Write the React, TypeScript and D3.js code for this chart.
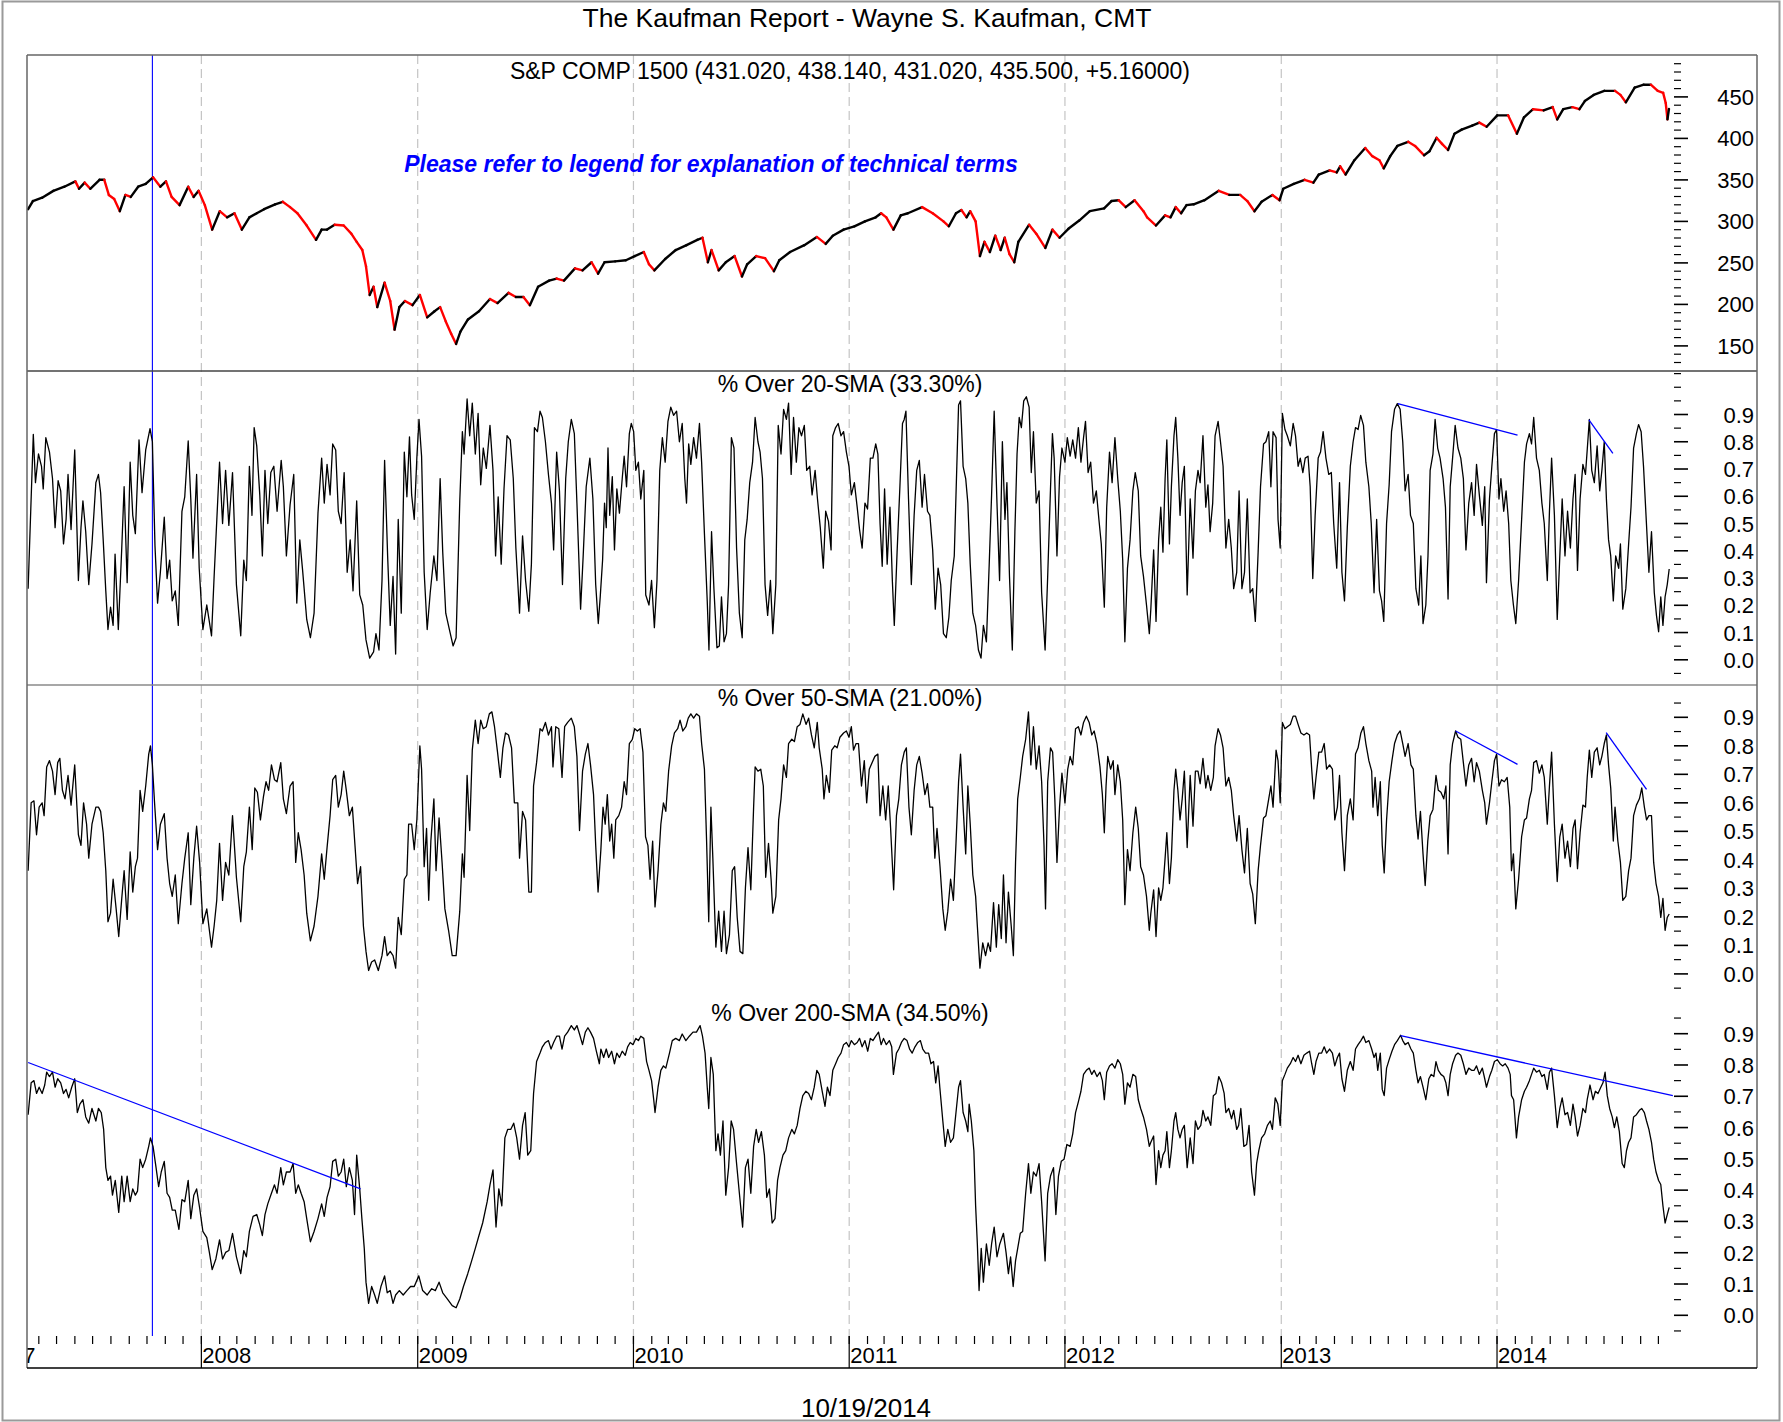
import React from "react";
import * as d3 from "d3";

// ---------------- text ----------------
const chartTitle = "The Kaufman Report - Wayne S. Kaufman, CMT";
const footerDate = "10/19/2014";
const noteText = "Please refer to legend for explanation of technical terms";
const spxTitle = "S&P COMP 1500 (431.020, 438.140, 431.020, 435.500, +5.16000)";
const pct20Title = "% Over 20-SMA (33.30%)";
const pct50Title = "% Over 50-SMA (21.00%)";
const pct200Title = "% Over 200-SMA (34.50%)";

// ---------------- axes ----------------
const xDomainYears = [2007.1918, 2014.8203];
const spxMajor = [150, 200, 250, 300, 350, 400, 450];
const spxMinorRange = [130, 490, 10];
const pctMajor = [0, 0.1, 0.2, 0.3, 0.4, 0.5, 0.6, 0.7, 0.8, 0.9];
const pct20MinorRange = [-0.05, 1.05, 0.05];
const pct50MinorRange = [-0.05, 0.95, 0.05];
const pct200MinorRange = [-0.05, 0.95, 0.05];
const markerYear = 2007.773; // Oct 2007 top

// ---------------- series (decimal year, value) ----------------
const spx: [number, number][] = [
[2007.197,314.7],[2007.219,324.5],[2007.262,328.5],[2007.314,336.8],[2007.365,341.8],[2007.416,348.2],[2007.433,339.3],[2007.459,346.7],[2007.485,339.3],[2007.528,350.1],[2007.550,350.1],[2007.571,331.9],[2007.596,327],[2007.622,312.3],[2007.648,331.9],[2007.673,329.5],[2007.707,341.8],[2007.742,345.2],[2007.776,353.1],[2007.810,341.8],[2007.836,348.2],[2007.862,329.5],[2007.899,319.6],[2007.939,341.8],[2007.964,329.5],[2007.987,336.8],[2008.016,319.6],[2008.050,290.1],[2008.085,312.3],[2008.119,304.9],[2008.153,309.8],[2008.187,290.1],[2008.222,304.9],[2008.256,309.8],[2008.290,314.7],[2008.341,320.6],[2008.376,323.6],[2008.410,317.2],[2008.444,309.8],[2008.487,295],[2008.530,277.8],[2008.556,290.1],[2008.581,290.1],[2008.616,296],[2008.658,295],[2008.693,285.2],[2008.718,275.4],[2008.744,265.5],[2008.761,245.9],[2008.778,211.4],[2008.796,221.3],[2008.813,196.7],[2008.847,226.2],[2008.873,204.1],[2008.893,169.6],[2008.915,196.7],[2008.941,204.1],[2008.976,199.1],[2009.010,211.4],[2009.044,184.4],[2009.078,191.8],[2009.104,196.7],[2009.130,179.5],[2009.155,164.7],[2009.178,152.4],[2009.198,167.2],[2009.233,181.9],[2009.284,191.8],[2009.335,206.5],[2009.370,201.6],[2009.421,213.9],[2009.455,209],[2009.490,209],[2009.520,199.1],[2009.558,221.3],[2009.609,228.7],[2009.644,231.1],[2009.678,228.7],[2009.729,243.4],[2009.764,241],[2009.806,250.8],
[2009.836,237],[2009.866,250.8],[2009.915,251.8],[2009.965,253.2],[2010.006,258.2],[2010.048,263.1],[2010.072,248.3],[2010.097,241],[2010.147,254.7],[2010.196,265.5],[2010.246,271.4],[2010.296,277.8],[2010.320,280.3],[2010.345,250.8],[2010.362,265.5],[2010.395,241],[2010.428,250.8],[2010.469,258.2],[2010.503,233.6],[2010.527,248.3],[2010.569,258.2],[2010.610,255.7],[2010.651,240],[2010.676,253.2],[2010.726,263.1],[2010.792,271.4],[2010.850,281.3],[2010.891,272.9],[2010.924,282.8],[2010.974,290.1],[2011.024,294.1],[2011.073,300],[2011.123,304.9],[2011.148,309.8],[2011.172,304.9],[2011.205,290.1],[2011.239,307.3],[2011.272,309.8],[2011.338,317.2],[2011.387,309.8],[2011.437,300],[2011.462,294.1],[2011.495,309.8],[2011.520,313.7],[2011.544,304.9],[2011.561,312.3],[2011.586,300],[2011.606,258.2],[2011.627,275.4],[2011.652,263.1],[2011.677,282.8],[2011.702,265.5],[2011.721,280.3],[2011.743,260.6],[2011.765,250.8],[2011.784,275.4],[2011.834,296],[2011.867,285.2],[2011.909,268],[2011.942,290.1],[2011.975,280.3],[2012.016,291.1],[2012.066,301],[2012.115,312.3],[2012.181,315.7],[2012.215,324.5],[2012.248,325.5],[2012.281,317.2],[2012.322,325.5],[2012.363,312.3],
[2012.380,304.9],[2012.421,295],[2012.463,307.3],[2012.488,304.9],[2012.512,317.2],[2012.537,309.8],[2012.562,319.6],[2012.595,320.6],[2012.645,325.5],[2012.711,336.8],[2012.760,331.9],[2012.810,331.9],[2012.843,324.5],[2012.876,312.3],[2012.909,323.6],[2012.959,331.9],[2012.992,325.5],[2013.009,339.3],[2013.058,345.2],[2013.108,350.1],[2013.149,346.7],[2013.174,356.5],[2013.224,361.4],[2013.257,359],[2013.273,366.3],[2013.298,356.5],[2013.339,373.7],[2013.389,388.5],[2013.422,378.6],[2013.455,373.7],[2013.475,363.9],[2013.505,378.6],[2013.538,390.9],[2013.588,395.9],[2013.620,390.9],[2013.662,379.6],[2013.687,384.5],[2013.720,400.8],[2013.745,393.4],[2013.773,386],[2013.803,405.7],[2013.836,410.6],[2013.885,415.5],[2013.918,419],[2013.952,414],[2014.001,427.8],[2014.051,427.8],[2014.092,405.7],[2014.125,425.4],[2014.167,435.2],[2014.216,433.7],[2014.258,437.7],[2014.279,422.9],[2014.307,435.2],[2014.349,437.7],[2014.382,435.2],[2014.407,445],[2014.448,452.4],[2014.497,457.3],[2014.547,457.3],[2014.572,452.4],[2014.597,443.5],[2014.638,461.3],[2014.680,464.7],[2014.713,464.7],[2014.745,457.3],[2014.770,454.9],[2014.782,442.6],[2014.790,422.9],[2014.797,435.5]
];

const pct20: [number, number][] = [
[2007.197,0.261],[2007.221,0.827],[2007.231,0.650],[2007.245,0.755],[2007.259,0.710],[2007.267,0.627],[2007.279,0.815],[2007.296,0.762],[2007.310,0.665],[2007.322,0.485],[2007.336,0.657],[2007.348,0.620],[2007.361,0.425],[2007.373,0.515],[2007.382,0.680],[2007.396,0.478],[2007.413,0.770],[2007.430,0.291],[2007.442,0.485],[2007.451,0.583],[2007.464,0.470],[2007.478,0.276],[2007.493,0.425],[2007.511,0.650],[2007.523,0.680],[2007.533,0.613],[2007.545,0.440],[2007.557,0.253],[2007.567,0.111],[2007.579,0.193],[2007.591,0.126],[2007.600,0.388],[2007.615,0.111],[2007.631,0.410],[2007.642,0.635],[2007.656,0.283],[2007.670,0.725],[2007.682,0.530],[2007.694,0.463],[2007.711,0.807],[2007.725,0.613],[2007.742,0.770],[2007.762,0.848],[2007.773,0.800],[2007.785,0.418],[2007.797,0.208],[2007.810,0.321],[2007.828,0.523],[2007.841,0.298],[2007.853,0.366],[2007.865,0.216],[2007.879,0.253],[2007.893,0.126],[2007.910,0.545],[2007.923,0.598],[2007.939,0.803],[2007.951,0.590],[2007.961,0.373],[2007.978,0.680],[2007.990,0.336],[2008.007,0.111],[2008.025,0.201],[2008.047,0.088],[2008.059,0.306],[2008.084,0.725],[2008.098,0.500],[2008.112,0.695],[2008.127,0.493],[2008.144,0.687],[2008.162,0.276],[2008.182,0.088],[2008.196,0.366],[2008.208,0.291],[2008.222,0.710],[2008.234,0.530],[2008.244,0.852],[2008.256,0.785],[2008.270,0.605],[2008.282,0.381],[2008.294,0.695],[2008.307,0.500],[2008.321,0.687],[2008.335,0.710],[2008.350,0.545],[2008.369,0.732],[2008.379,0.635],[2008.393,0.381],[2008.410,0.568],[2008.427,0.680],[2008.441,0.208],[2008.455,0.440],[2008.468,0.328],[2008.487,0.148],[2008.504,0.081],[2008.521,0.171],[2008.539,0.538],[2008.556,0.740],[2008.568,0.575],[2008.581,0.717],[2008.595,0.605],[2008.607,0.792],[2008.621,0.770],[2008.633,0.545],[2008.646,0.500],[2008.660,0.687],[2008.674,0.321],[2008.688,0.440],[2008.701,0.253],[2008.718,0.583],[2008.732,0.238],[2008.746,0.201],[2008.761,0.073],[2008.778,0.006],[2008.796,0.029],[2008.807,0.096],[2008.821,0.036],[2008.835,0.291],[2008.847,0.732],[2008.861,0.381],[2008.873,0.126],[2008.886,0.306],[2008.898,0.021],[2008.910,0.515],[2008.924,0.171],[2008.938,0.762],[2008.950,0.598],[2008.962,0.818],[2008.972,0.605],[2008.984,0.515],[2008.996,0.740],[2009.006,0.882],[2009.018,0.747],[2009.030,0.321],[2009.044,0.111],[2009.058,0.246],[2009.075,0.381],[2009.089,0.291],[2009.104,0.665],[2009.116,0.395],[2009.130,0.171],[2009.147,0.111],[2009.164,0.051],[2009.178,0.081],[2009.195,0.583],[2009.207,0.837],[2009.215,0.755],[2009.229,0.957],[2009.241,0.822],[2009.253,0.942],[2009.267,0.755],[2009.280,0.904],[2009.292,0.642],[2009.304,0.777],[2009.318,0.702],[2009.335,0.860],[2009.349,0.695],[2009.361,0.381],[2009.373,0.598],[2009.387,0.351],[2009.400,0.627],[2009.414,0.822],[2009.429,0.807],[2009.443,0.665],[2009.455,0.410],[2009.472,0.171],[2009.486,0.455],[2009.500,0.291],[2009.515,0.178],[2009.527,0.351],[2009.541,0.852],[2009.555,0.837],[2009.567,0.912],[2009.578,0.889],[2009.592,0.800],[2009.606,0.680],[2009.620,0.575],[2009.630,0.403],[2009.644,0.762],[2009.657,0.620],[2009.671,0.276],[2009.686,0.665],[2009.698,0.800],[2009.712,0.882],[2009.726,0.830],[2009.738,0.575],[2009.755,0.186],[2009.767,0.381],[2009.781,0.635],[2009.798,0.740],[2009.812,0.590],[2009.825,0.276],[2009.837,0.133],
[2009.846,0.231],[2009.857,0.366],[2009.866,0.575],[2009.874,0.485],[2009.882,0.777],[2009.890,0.530],[2009.902,0.672],[2009.912,0.403],[2009.923,0.627],[2009.935,0.538],[2009.948,0.665],[2009.957,0.747],[2009.968,0.635],[2009.981,0.830],[2009.990,0.867],[2010.001,0.837],[2010.011,0.695],[2010.023,0.725],[2010.034,0.590],[2010.048,0.695],[2010.057,0.238],[2010.072,0.201],[2010.084,0.291],[2010.097,0.118],[2010.109,0.291],[2010.122,0.695],[2010.134,0.815],[2010.147,0.725],[2010.160,0.875],[2010.173,0.927],[2010.186,0.897],[2010.200,0.912],[2010.213,0.800],[2010.226,0.867],[2010.238,0.665],[2010.246,0.575],[2010.256,0.792],[2010.266,0.717],[2010.279,0.815],[2010.292,0.740],[2010.306,0.867],[2010.316,0.725],[2010.329,0.463],[2010.342,0.216],[2010.350,0.036],[2010.362,0.470],[2010.373,0.261],[2010.387,0.044],[2010.398,0.051],[2010.408,0.231],[2010.420,0.066],[2010.431,0.096],[2010.441,0.276],[2010.454,0.815],[2010.466,0.777],[2010.478,0.410],[2010.491,0.171],[2010.504,0.081],[2010.516,0.440],[2010.527,0.515],[2010.539,0.650],[2010.552,0.725],[2010.564,0.889],[2010.577,0.800],[2010.587,0.762],[2010.598,0.665],[2010.610,0.276],[2010.622,0.163],[2010.635,0.291],[2010.646,0.096],[2010.660,0.276],[2010.671,0.860],[2010.684,0.755],[2010.696,0.919],[2010.709,0.882],[2010.719,0.942],[2010.731,0.680],[2010.742,0.889],[2010.755,0.725],[2010.767,0.852],[2010.779,0.822],[2010.792,0.860],[2010.803,0.695],[2010.817,0.710],[2010.828,0.605],[2010.842,0.695],[2010.853,0.590],[2010.866,0.485],[2010.880,0.336],[2010.891,0.545],[2010.904,0.508],[2010.916,0.403],[2010.924,0.822],[2010.937,0.852],[2010.949,0.867],[2010.962,0.822],[2010.974,0.837],[2010.987,0.762],[2010.999,0.710],[2011.010,0.605],[2011.024,0.650],[2011.037,0.560],[2011.048,0.478],[2011.060,0.410],[2011.073,0.575],[2011.085,0.553],[2011.098,0.740],[2011.110,0.740],[2011.123,0.792],[2011.133,0.755],[2011.143,0.500],[2011.153,0.343],[2011.164,0.627],[2011.176,0.351],[2011.189,0.560],[2011.200,0.291],[2011.209,0.126],[2011.222,0.395],[2011.235,0.635],[2011.247,0.867],[2011.255,0.882],[2011.263,0.912],[2011.275,0.590],[2011.288,0.276],[2011.301,0.530],[2011.313,0.695],[2011.325,0.732],[2011.338,0.560],[2011.349,0.680],[2011.363,0.545],[2011.374,0.530],[2011.387,0.403],[2011.399,0.186],[2011.412,0.336],[2011.424,0.276],[2011.437,0.096],[2011.450,0.081],[2011.462,0.156],[2011.473,0.291],[2011.487,0.381],[2011.495,0.605],[2011.507,0.935],[2011.516,0.950],[2011.528,0.710],[2011.540,0.665],[2011.550,0.575],[2011.561,0.351],[2011.573,0.171],[2011.586,0.126],[2011.599,0.036],[2011.611,0.006],[2011.622,0.126],[2011.636,0.066],[2011.649,0.351],[2011.660,0.605],[2011.672,0.912],[2011.685,0.575],[2011.697,0.291],[2011.710,0.800],[2011.722,0.515],[2011.731,0.650],[2011.743,0.306],[2011.756,0.036],[2011.768,0.470],[2011.778,0.755],[2011.788,0.889],[2011.798,0.852],[2011.809,0.950],[2011.821,0.965],[2011.834,0.927],[2011.844,0.687],[2011.854,0.837],[2011.867,0.575],[2011.880,0.620],[2011.892,0.246],[2011.908,0.036],[2011.920,0.306],[2011.933,0.627],[2011.942,0.830],[2011.950,0.740],[2011.963,0.381],[2011.975,0.672],[2011.986,0.777],[2012.000,0.725],[2012.011,0.815],[2012.024,0.747],[2012.036,0.807],[2012.049,0.740],[2012.062,0.852],[2012.074,0.725],[2012.086,0.815],[2012.095,0.875],[2012.107,0.687],[2012.119,0.725],[2012.132,0.575],[2012.145,0.620],[2012.157,0.515],[2012.168,0.425],[2012.182,0.193],[2012.193,0.560],[2012.206,0.762],[2012.218,0.650],[2012.231,0.815],[2012.244,0.665],[2012.256,0.545],[2012.267,0.366],[2012.277,0.066],[2012.289,0.336],[2012.301,0.440],[2012.314,0.620],[2012.325,0.687],[2012.339,0.620],[2012.350,0.381],[2012.363,0.306],[2012.377,0.201],[2012.390,0.096],
[2012.397,0.186],[2012.410,0.403],[2012.421,0.141],[2012.433,0.440],[2012.443,0.560],[2012.453,0.395],[2012.463,0.665],[2012.471,0.807],[2012.483,0.425],[2012.492,0.635],[2012.504,0.822],[2012.512,0.889],[2012.522,0.740],[2012.532,0.530],[2012.542,0.650],[2012.552,0.710],[2012.565,0.238],[2012.579,0.590],[2012.592,0.373],[2012.603,0.620],[2012.615,0.695],[2012.625,0.650],[2012.638,0.822],[2012.651,0.560],[2012.661,0.642],[2012.671,0.470],[2012.683,0.575],[2012.694,0.822],[2012.708,0.875],[2012.719,0.800],[2012.731,0.710],[2012.744,0.410],[2012.757,0.515],[2012.769,0.410],[2012.780,0.261],[2012.794,0.321],[2012.805,0.620],[2012.818,0.261],[2012.830,0.321],[2012.843,0.590],[2012.856,0.246],[2012.868,0.261],[2012.880,0.141],[2012.893,0.395],[2012.904,0.635],[2012.918,0.792],[2012.929,0.800],[2012.942,0.837],[2012.952,0.635],[2012.962,0.837],[2012.976,0.815],[2012.985,0.515],[2012.995,0.410],[2013.005,0.904],[2013.017,0.845],[2013.028,0.822],[2013.042,0.785],[2013.055,0.867],[2013.066,0.822],[2013.078,0.710],[2013.088,0.740],[2013.100,0.687],[2013.111,0.740],[2013.124,0.747],[2013.134,0.635],[2013.146,0.298],[2013.157,0.530],[2013.171,0.740],[2013.182,0.762],[2013.194,0.837],[2013.207,0.740],[2013.220,0.680],[2013.232,0.687],[2013.243,0.500],[2013.257,0.336],[2013.270,0.650],[2013.281,0.321],[2013.293,0.216],[2013.306,0.485],[2013.320,0.710],[2013.333,0.800],[2013.344,0.852],[2013.356,0.845],[2013.368,0.897],[2013.381,0.860],[2013.392,0.725],[2013.406,0.635],[2013.417,0.500],[2013.430,0.246],[2013.442,0.515],[2013.455,0.253],[2013.465,0.216],[2013.475,0.141],[2013.488,0.500],[2013.500,0.642],[2013.511,0.837],[2013.525,0.919],[2013.538,0.940],[2013.551,0.919],[2013.563,0.800],[2013.574,0.620],[2013.588,0.680],[2013.599,0.530],[2013.612,0.500],[2013.624,0.261],[2013.637,0.201],[2013.647,0.381],[2013.657,0.133],[2013.670,0.201],[2013.680,0.381],[2013.690,0.695],[2013.703,0.755],[2013.713,0.882],[2013.725,0.777],[2013.736,0.740],[2013.750,0.665],[2013.761,0.560],[2013.773,0.223],[2013.783,0.635],[2013.794,0.740],[2013.806,0.860],[2013.819,0.777],[2013.832,0.740],[2013.844,0.665],[2013.856,0.403],[2013.869,0.575],[2013.882,0.650],[2013.894,0.530],[2013.905,0.717],[2013.918,0.605],[2013.932,0.493],[2013.943,0.635],[2013.951,0.283],[2013.965,0.590],[2013.976,0.710],[2013.988,0.830],[2013.998,0.845],[2014.009,0.590],[2014.018,0.665],[2014.031,0.545],[2014.042,0.620],[2014.054,0.500],[2014.064,0.291],[2014.076,0.201],[2014.087,0.133],[2014.100,0.291],[2014.114,0.515],[2014.127,0.725],[2014.137,0.792],[2014.150,0.830],[2014.160,0.792],[2014.170,0.889],[2014.183,0.740],[2014.196,0.695],[2014.208,0.575],[2014.219,0.500],[2014.233,0.291],[2014.243,0.545],[2014.253,0.740],[2014.266,0.530],[2014.279,0.148],[2014.291,0.381],[2014.302,0.590],[2014.315,0.381],[2014.327,0.545],[2014.340,0.410],[2014.352,0.590],[2014.362,0.680],[2014.373,0.328],[2014.385,0.590],[2014.398,0.717],[2014.410,0.680],[2014.418,0.770],[2014.428,0.882],[2014.439,0.695],[2014.451,0.650],[2014.464,0.785],[2014.476,0.620],[2014.486,0.695],[2014.497,0.800],[2014.507,0.590],[2014.517,0.440],[2014.527,0.381],[2014.539,0.216],[2014.550,0.381],[2014.564,0.336],[2014.572,0.425],[2014.583,0.186],[2014.597,0.261],[2014.610,0.425],[2014.621,0.560],[2014.633,0.777],[2014.646,0.830],[2014.656,0.863],[2014.668,0.837],[2014.679,0.710],[2014.693,0.493],[2014.704,0.321],[2014.716,0.470],[2014.729,0.246],[2014.739,0.163],[2014.749,0.103],[2014.759,0.231],[2014.769,0.126],[2014.779,0.231],[2014.789,0.276],[2014.798,0.333]
];

const pct50: [number, number][] = [
[2007.197,0.362],[2007.211,0.600],[2007.224,0.607],[2007.236,0.488],[2007.248,0.585],[2007.262,0.600],[2007.271,0.555],[2007.283,0.726],[2007.296,0.748],[2007.310,0.711],[2007.322,0.629],[2007.334,0.741],[2007.344,0.756],[2007.356,0.644],[2007.368,0.614],[2007.382,0.696],[2007.396,0.592],[2007.413,0.733],[2007.430,0.488],[2007.442,0.451],[2007.454,0.600],[2007.468,0.525],[2007.478,0.406],[2007.493,0.525],[2007.511,0.585],[2007.523,0.585],[2007.533,0.570],[2007.545,0.495],[2007.557,0.362],[2007.567,0.183],[2007.579,0.213],[2007.591,0.332],[2007.605,0.228],[2007.617,0.131],[2007.631,0.265],[2007.642,0.362],[2007.656,0.191],[2007.670,0.428],[2007.682,0.287],[2007.694,0.376],[2007.704,0.406],[2007.716,0.644],[2007.728,0.570],[2007.742,0.659],[2007.756,0.771],[2007.764,0.800],[2007.773,0.733],[2007.783,0.600],[2007.797,0.436],[2007.810,0.525],[2007.828,0.562],[2007.841,0.406],[2007.853,0.317],[2007.865,0.272],[2007.879,0.347],[2007.893,0.176],[2007.910,0.317],[2007.923,0.406],[2007.939,0.495],[2007.951,0.243],[2007.965,0.406],[2007.978,0.518],[2007.992,0.391],[2008.007,0.176],[2008.025,0.228],[2008.037,0.153],[2008.047,0.094],[2008.059,0.168],[2008.071,0.258],[2008.084,0.458],[2008.098,0.258],[2008.112,0.391],[2008.127,0.347],[2008.144,0.555],[2008.162,0.339],[2008.182,0.183],[2008.196,0.376],[2008.208,0.428],[2008.222,0.585],[2008.235,0.436],[2008.247,0.652],[2008.259,0.637],[2008.273,0.540],[2008.287,0.622],[2008.299,0.674],[2008.311,0.644],[2008.324,0.733],[2008.338,0.681],[2008.350,0.674],[2008.367,0.741],[2008.379,0.614],[2008.393,0.562],[2008.410,0.659],[2008.424,0.674],[2008.436,0.391],[2008.448,0.495],[2008.461,0.436],[2008.475,0.347],[2008.487,0.213],[2008.504,0.116],[2008.521,0.168],[2008.539,0.272],[2008.556,0.421],[2008.568,0.332],[2008.581,0.443],[2008.595,0.555],[2008.607,0.681],[2008.621,0.696],[2008.633,0.585],[2008.646,0.629],[2008.658,0.711],[2008.670,0.644],[2008.684,0.555],[2008.698,0.585],[2008.710,0.451],[2008.722,0.317],[2008.736,0.376],[2008.749,0.168],[2008.761,0.079],[2008.773,0.012],[2008.787,0.042],[2008.801,0.049],[2008.818,0.012],[2008.835,0.064],[2008.847,0.131],[2008.859,0.064],[2008.873,0.079],[2008.886,0.064],[2008.898,0.020],[2008.910,0.198],[2008.924,0.138],[2008.938,0.332],[2008.950,0.347],[2008.958,0.525],[2008.972,0.525],[2008.984,0.436],[2008.996,0.540],[2009.010,0.800],[2009.018,0.718],[2009.030,0.376],[2009.041,0.510],[2009.051,0.258],[2009.061,0.466],[2009.075,0.614],[2009.085,0.362],[2009.099,0.547],[2009.113,0.391],[2009.126,0.228],[2009.143,0.153],[2009.160,0.064],[2009.178,0.064],[2009.195,0.220],[2009.207,0.421],[2009.215,0.339],[2009.229,0.696],[2009.241,0.503],[2009.253,0.785],[2009.267,0.890],[2009.280,0.808],[2009.292,0.890],[2009.304,0.860],[2009.318,0.867],[2009.332,0.912],[2009.344,0.919],[2009.356,0.867],[2009.370,0.778],[2009.383,0.689],[2009.395,0.793],[2009.407,0.845],[2009.421,0.838],[2009.435,0.793],[2009.448,0.600],[2009.464,0.600],[2009.472,0.406],[2009.486,0.570],[2009.500,0.540],[2009.515,0.287],[2009.527,0.287],[2009.537,0.659],[2009.551,0.741],[2009.567,0.860],[2009.578,0.852],[2009.592,0.882],[2009.606,0.838],[2009.620,0.867],[2009.627,0.726],[2009.640,0.867],[2009.654,0.860],[2009.669,0.689],[2009.681,0.867],[2009.695,0.882],[2009.712,0.897],[2009.726,0.867],[2009.738,0.763],[2009.750,0.503],[2009.764,0.711],[2009.777,0.771],[2009.789,0.808],[2009.801,0.733],[2009.815,0.629],[2009.825,0.451],[2009.836,0.287],
[2009.849,0.436],[2009.859,0.585],[2009.869,0.525],[2009.879,0.629],[2009.890,0.466],[2009.899,0.525],[2009.909,0.406],[2009.918,0.540],[2009.932,0.555],[2009.945,0.585],[2009.957,0.674],[2009.968,0.629],[2009.981,0.808],[2009.995,0.823],[2010.006,0.860],[2010.018,0.852],[2010.031,0.860],[2010.044,0.778],[2010.056,0.481],[2010.067,0.451],[2010.077,0.332],[2010.089,0.466],[2010.100,0.235],[2010.114,0.362],[2010.127,0.525],[2010.139,0.600],[2010.150,0.570],[2010.163,0.711],[2010.177,0.800],[2010.190,0.845],[2010.205,0.860],[2010.216,0.890],[2010.229,0.852],[2010.243,0.867],[2010.254,0.897],[2010.266,0.912],[2010.279,0.897],[2010.292,0.912],[2010.306,0.904],[2010.316,0.808],[2010.329,0.718],[2010.339,0.466],[2010.349,0.183],[2010.359,0.585],[2010.368,0.406],[2010.382,0.094],[2010.395,0.220],[2010.408,0.079],[2010.420,0.220],[2010.431,0.071],[2010.445,0.138],[2010.458,0.362],[2010.469,0.376],[2010.481,0.198],[2010.494,0.079],[2010.507,0.071],[2010.519,0.302],[2010.531,0.443],[2010.544,0.295],[2010.557,0.585],[2010.564,0.726],[2010.577,0.711],[2010.590,0.718],[2010.602,0.659],[2010.613,0.339],[2010.626,0.458],[2010.638,0.332],[2010.646,0.213],[2010.660,0.272],[2010.673,0.540],[2010.684,0.614],[2010.696,0.733],[2010.709,0.689],[2010.719,0.808],[2010.734,0.823],[2010.746,0.815],[2010.759,0.867],[2010.772,0.875],[2010.785,0.912],[2010.800,0.875],[2010.812,0.897],[2010.825,0.838],[2010.838,0.793],[2010.852,0.882],[2010.861,0.793],[2010.875,0.718],[2010.883,0.614],[2010.894,0.696],[2010.908,0.637],[2010.919,0.785],[2010.933,0.800],[2010.944,0.793],[2010.957,0.830],[2010.974,0.845],[2010.987,0.852],[2010.999,0.830],[2011.010,0.867],[2011.020,0.785],[2011.032,0.808],[2011.043,0.808],[2011.057,0.659],[2011.070,0.748],[2011.081,0.600],[2011.093,0.718],[2011.106,0.741],[2011.119,0.763],[2011.133,0.771],[2011.143,0.555],[2011.156,0.659],[2011.169,0.540],[2011.181,0.659],[2011.192,0.510],[2011.206,0.295],[2011.219,0.555],[2011.230,0.614],[2011.242,0.733],[2011.255,0.778],[2011.265,0.793],[2011.277,0.585],[2011.288,0.488],[2011.301,0.644],[2011.313,0.733],[2011.325,0.763],[2011.338,0.704],[2011.351,0.629],[2011.363,0.667],[2011.374,0.585],[2011.387,0.585],[2011.397,0.406],[2011.407,0.510],[2011.421,0.376],[2011.434,0.228],[2011.445,0.153],[2011.457,0.220],[2011.470,0.332],[2011.483,0.258],[2011.495,0.458],[2011.507,0.674],[2011.516,0.771],[2011.528,0.585],[2011.540,0.421],[2011.550,0.659],[2011.561,0.525],[2011.573,0.347],[2011.586,0.272],[2011.594,0.168],[2011.606,0.020],[2011.619,0.109],[2011.632,0.064],[2011.644,0.109],[2011.655,0.079],[2011.669,0.250],[2011.682,0.094],[2011.693,0.243],[2011.705,0.124],[2011.715,0.347],[2011.727,0.109],[2011.738,0.287],[2011.751,0.168],[2011.761,0.064],[2011.771,0.391],[2011.781,0.614],[2011.793,0.689],[2011.804,0.763],[2011.818,0.823],[2011.831,0.919],[2011.842,0.733],[2011.854,0.867],[2011.867,0.718],[2011.880,0.800],[2011.892,0.674],[2011.903,0.451],[2011.910,0.228],[2011.920,0.674],[2011.933,0.793],[2011.943,0.778],[2011.953,0.614],[2011.963,0.391],[2011.975,0.585],[2011.986,0.704],[2012.000,0.600],[2012.013,0.718],[2012.024,0.763],[2012.036,0.733],[2012.049,0.860],[2012.062,0.867],[2012.074,0.838],[2012.086,0.882],[2012.099,0.904],[2012.112,0.882],[2012.124,0.838],[2012.135,0.852],[2012.148,0.808],[2012.162,0.726],[2012.173,0.629],[2012.182,0.495],[2012.190,0.659],[2012.198,0.763],[2012.211,0.718],[2012.223,0.748],[2012.231,0.629],[2012.244,0.733],[2012.256,0.674],[2012.267,0.540],[2012.277,0.243],[2012.289,0.436],[2012.301,0.362],[2012.314,0.495],[2012.327,0.585],[2012.339,0.510],[2012.350,0.376],[2012.363,0.347],[2012.377,0.272],[2012.390,0.153],
[2012.397,0.213],[2012.410,0.295],[2012.421,0.131],[2012.433,0.302],[2012.443,0.258],[2012.453,0.302],[2012.463,0.406],[2012.471,0.495],[2012.483,0.317],[2012.492,0.406],[2012.504,0.644],[2012.512,0.718],[2012.522,0.644],[2012.532,0.540],[2012.542,0.614],[2012.552,0.711],[2012.565,0.443],[2012.579,0.696],[2012.592,0.518],[2012.603,0.711],[2012.615,0.711],[2012.625,0.667],[2012.638,0.756],[2012.651,0.652],[2012.661,0.696],[2012.674,0.644],[2012.686,0.689],[2012.694,0.800],[2012.708,0.860],[2012.719,0.838],[2012.731,0.793],[2012.744,0.659],[2012.757,0.689],[2012.769,0.644],[2012.780,0.555],[2012.794,0.466],[2012.805,0.555],[2012.818,0.436],[2012.830,0.354],[2012.843,0.510],[2012.856,0.317],[2012.868,0.280],[2012.880,0.176],[2012.893,0.362],[2012.904,0.451],[2012.918,0.547],[2012.929,0.555],[2012.942,0.614],[2012.952,0.659],[2012.962,0.585],[2012.976,0.785],[2012.985,0.748],[2012.995,0.600],[2013.005,0.882],[2013.017,0.860],[2013.028,0.867],[2013.042,0.875],[2013.055,0.904],[2013.066,0.904],[2013.078,0.875],[2013.091,0.845],[2013.105,0.838],[2013.118,0.845],[2013.131,0.838],[2013.141,0.718],[2013.151,0.614],[2013.161,0.689],[2013.174,0.778],[2013.187,0.778],[2013.199,0.808],[2013.210,0.718],[2013.224,0.733],[2013.237,0.718],[2013.248,0.540],[2013.260,0.585],[2013.270,0.696],[2013.281,0.495],[2013.293,0.362],[2013.306,0.555],[2013.320,0.614],[2013.333,0.540],[2013.344,0.771],[2013.356,0.793],[2013.369,0.845],[2013.381,0.867],[2013.392,0.808],[2013.406,0.748],[2013.419,0.711],[2013.425,0.585],[2013.435,0.689],[2013.447,0.555],[2013.459,0.674],[2013.468,0.451],[2013.477,0.354],[2013.488,0.540],[2013.500,0.674],[2013.513,0.748],[2013.525,0.808],[2013.538,0.838],[2013.551,0.852],[2013.563,0.808],[2013.574,0.763],[2013.588,0.808],[2013.601,0.733],[2013.612,0.718],[2013.624,0.555],[2013.634,0.473],[2013.645,0.570],[2013.657,0.421],[2013.667,0.310],[2013.679,0.466],[2013.690,0.555],[2013.703,0.577],[2013.717,0.696],[2013.728,0.644],[2013.740,0.637],[2013.753,0.614],[2013.763,0.659],[2013.773,0.421],[2013.783,0.733],[2013.794,0.808],[2013.808,0.852],[2013.819,0.830],[2013.832,0.823],[2013.844,0.741],[2013.856,0.659],[2013.869,0.733],[2013.882,0.756],[2013.894,0.674],[2013.905,0.741],[2013.918,0.711],[2013.932,0.644],[2013.943,0.600],[2013.951,0.525],[2013.965,0.600],[2013.976,0.674],[2013.988,0.748],[2013.998,0.771],[2014.009,0.659],[2014.021,0.681],[2014.034,0.674],[2014.047,0.689],[2014.059,0.585],[2014.067,0.362],[2014.076,0.421],[2014.087,0.228],[2014.100,0.332],[2014.114,0.481],[2014.127,0.540],[2014.137,0.547],[2014.150,0.614],[2014.160,0.644],[2014.170,0.741],[2014.183,0.748],[2014.196,0.704],[2014.208,0.733],[2014.219,0.689],[2014.233,0.525],[2014.243,0.659],[2014.253,0.778],[2014.266,0.525],[2014.279,0.324],[2014.291,0.481],[2014.302,0.525],[2014.315,0.406],[2014.327,0.466],[2014.340,0.376],[2014.352,0.510],[2014.362,0.540],[2014.373,0.369],[2014.385,0.495],[2014.398,0.592],[2014.410,0.585],[2014.418,0.689],[2014.428,0.785],[2014.439,0.689],[2014.451,0.778],[2014.464,0.793],[2014.476,0.733],[2014.486,0.763],[2014.497,0.808],[2014.507,0.838],[2014.517,0.733],[2014.527,0.652],[2014.539,0.466],[2014.547,0.585],[2014.560,0.466],[2014.572,0.391],[2014.583,0.258],[2014.597,0.272],[2014.610,0.362],[2014.621,0.406],[2014.633,0.555],[2014.646,0.592],[2014.660,0.614],[2014.671,0.652],[2014.683,0.585],[2014.693,0.540],[2014.704,0.555],[2014.716,0.555],[2014.726,0.391],[2014.737,0.317],[2014.749,0.272],[2014.759,0.198],[2014.769,0.265],[2014.779,0.153],[2014.789,0.198],[2014.798,0.210]
];

const pct200: [number, number][] = [
[2007.197,0.641],[2007.211,0.743],[2007.224,0.750],[2007.236,0.709],[2007.248,0.729],[2007.262,0.709],[2007.274,0.736],[2007.283,0.777],[2007.296,0.763],[2007.310,0.777],[2007.322,0.729],[2007.334,0.756],[2007.348,0.743],[2007.361,0.709],[2007.373,0.722],[2007.385,0.695],[2007.399,0.729],[2007.413,0.756],[2007.425,0.648],[2007.437,0.675],[2007.451,0.689],[2007.464,0.634],[2007.478,0.614],[2007.493,0.661],[2007.511,0.621],[2007.523,0.661],[2007.536,0.648],[2007.547,0.594],[2007.557,0.472],[2007.567,0.431],[2007.579,0.445],[2007.588,0.384],[2007.601,0.431],[2007.617,0.329],[2007.631,0.445],[2007.642,0.363],[2007.656,0.445],[2007.670,0.363],[2007.682,0.404],[2007.694,0.384],[2007.704,0.397],[2007.716,0.499],[2007.728,0.472],[2007.742,0.499],[2007.756,0.540],[2007.764,0.567],[2007.776,0.540],[2007.790,0.472],[2007.802,0.411],[2007.814,0.458],[2007.828,0.492],[2007.841,0.390],[2007.853,0.377],[2007.865,0.336],[2007.879,0.336],[2007.896,0.275],[2007.910,0.370],[2007.923,0.363],[2007.939,0.431],[2007.951,0.309],[2007.965,0.384],[2007.978,0.404],[2007.992,0.343],[2008.007,0.268],[2008.025,0.248],[2008.037,0.201],[2008.050,0.146],[2008.067,0.180],[2008.084,0.241],[2008.098,0.180],[2008.112,0.201],[2008.127,0.207],[2008.144,0.262],[2008.162,0.187],[2008.182,0.133],[2008.196,0.207],[2008.208,0.187],[2008.222,0.268],[2008.239,0.316],[2008.256,0.322],[2008.270,0.289],[2008.282,0.255],[2008.294,0.322],[2008.307,0.356],[2008.324,0.390],[2008.338,0.417],[2008.350,0.390],[2008.367,0.472],[2008.379,0.417],[2008.393,0.458],[2008.410,0.458],[2008.424,0.485],[2008.436,0.390],[2008.448,0.417],[2008.461,0.390],[2008.475,0.363],[2008.487,0.309],[2008.504,0.235],[2008.521,0.268],[2008.539,0.309],[2008.556,0.356],[2008.568,0.316],[2008.581,0.377],[2008.595,0.411],[2008.607,0.492],[2008.621,0.499],[2008.633,0.445],[2008.646,0.458],[2008.658,0.499],[2008.670,0.411],[2008.684,0.472],[2008.698,0.431],[2008.708,0.322],[2008.718,0.512],[2008.732,0.404],[2008.742,0.309],[2008.753,0.214],[2008.761,0.106],[2008.773,0.038],[2008.787,0.092],[2008.801,0.065],[2008.813,0.038],[2008.830,0.092],[2008.847,0.126],[2008.859,0.072],[2008.873,0.079],[2008.886,0.038],[2008.898,0.065],[2008.915,0.079],[2008.933,0.065],[2008.950,0.079],[2008.967,0.092],[2008.984,0.092],[2009.005,0.126],[2009.023,0.079],[2009.044,0.065],[2009.065,0.085],[2009.082,0.079],[2009.099,0.106],[2009.116,0.072],[2009.138,0.052],[2009.160,0.031],[2009.178,0.024],[2009.195,0.052],[2009.212,0.092],[2009.232,0.133],[2009.250,0.174],[2009.267,0.214],[2009.284,0.255],[2009.301,0.295],[2009.322,0.363],[2009.335,0.417],[2009.349,0.465],[2009.363,0.282],[2009.376,0.404],[2009.390,0.350],[2009.404,0.567],[2009.417,0.594],[2009.431,0.594],[2009.445,0.614],[2009.459,0.567],[2009.472,0.499],[2009.486,0.607],[2009.498,0.648],[2009.510,0.512],[2009.524,0.526],[2009.537,0.709],[2009.551,0.811],[2009.567,0.838],[2009.578,0.858],[2009.592,0.872],[2009.606,0.878],[2009.618,0.851],[2009.630,0.872],[2009.644,0.892],[2009.657,0.892],[2009.669,0.851],[2009.681,0.892],[2009.695,0.905],[2009.712,0.926],[2009.726,0.912],[2009.738,0.926],[2009.750,0.899],[2009.764,0.865],[2009.777,0.905],[2009.789,0.919],[2009.801,0.905],[2009.815,0.885],[2009.828,0.844],[2009.842,0.804],
[2009.849,0.851],[2009.862,0.824],[2009.874,0.851],[2009.885,0.824],[2009.899,0.844],[2009.912,0.804],[2009.923,0.838],[2009.935,0.824],[2009.948,0.844],[2009.962,0.831],[2009.973,0.858],[2009.985,0.872],[2009.998,0.865],[2010.011,0.885],[2010.023,0.878],[2010.034,0.892],[2010.048,0.885],[2010.061,0.811],[2010.072,0.783],[2010.084,0.750],[2010.094,0.689],[2010.100,0.648],[2010.114,0.729],[2010.127,0.783],[2010.139,0.797],[2010.150,0.790],[2010.167,0.838],[2010.180,0.878],[2010.196,0.885],[2010.213,0.878],[2010.226,0.899],[2010.243,0.878],[2010.259,0.892],[2010.276,0.905],[2010.292,0.905],[2010.309,0.926],[2010.320,0.892],[2010.332,0.838],[2010.342,0.729],[2010.349,0.661],[2010.359,0.824],[2010.370,0.770],[2010.382,0.526],[2010.392,0.580],[2010.403,0.512],[2010.415,0.621],[2010.428,0.384],[2010.441,0.472],[2010.453,0.621],[2010.464,0.594],[2010.478,0.485],[2010.491,0.390],[2010.506,0.282],[2010.519,0.472],[2010.531,0.499],[2010.544,0.390],[2010.557,0.540],[2010.569,0.594],[2010.580,0.553],[2010.593,0.587],[2010.607,0.512],[2010.618,0.377],[2010.630,0.404],[2010.643,0.295],[2010.656,0.309],[2010.668,0.431],[2010.679,0.472],[2010.693,0.512],[2010.706,0.526],[2010.719,0.567],[2010.734,0.594],[2010.746,0.580],[2010.759,0.607],[2010.772,0.661],[2010.785,0.702],[2010.799,0.716],[2010.812,0.709],[2010.825,0.689],[2010.838,0.729],[2010.850,0.783],[2010.861,0.770],[2010.875,0.716],[2010.888,0.668],[2010.899,0.729],[2010.911,0.702],[2010.924,0.783],[2010.937,0.804],[2010.949,0.824],[2010.962,0.838],[2010.974,0.865],[2010.987,0.872],[2010.999,0.858],[2011.010,0.878],[2011.024,0.865],[2011.037,0.872],[2011.048,0.885],[2011.060,0.858],[2011.073,0.878],[2011.086,0.844],[2011.098,0.885],[2011.110,0.878],[2011.123,0.892],[2011.136,0.905],[2011.148,0.865],[2011.159,0.885],[2011.172,0.865],[2011.186,0.878],[2011.197,0.858],[2011.205,0.770],[2011.219,0.838],[2011.230,0.851],[2011.242,0.872],[2011.255,0.885],[2011.268,0.878],[2011.280,0.851],[2011.292,0.838],[2011.305,0.858],[2011.318,0.872],[2011.330,0.878],[2011.341,0.851],[2011.354,0.838],[2011.368,0.838],[2011.379,0.804],[2011.391,0.811],[2011.401,0.743],[2011.412,0.797],[2011.420,0.729],[2011.434,0.621],[2011.445,0.540],[2011.457,0.594],[2011.470,0.553],[2011.483,0.567],[2011.495,0.648],[2011.507,0.729],[2011.516,0.750],[2011.528,0.648],[2011.540,0.621],[2011.550,0.587],[2011.556,0.675],[2011.566,0.621],[2011.578,0.526],[2011.586,0.350],[2011.594,0.228],[2011.602,0.079],[2011.612,0.214],[2011.622,0.106],[2011.636,0.228],[2011.649,0.160],[2011.660,0.228],[2011.672,0.282],[2011.685,0.187],[2011.698,0.228],[2011.715,0.262],[2011.727,0.201],[2011.738,0.133],[2011.748,0.187],[2011.760,0.092],[2011.771,0.174],[2011.781,0.214],[2011.793,0.262],[2011.804,0.268],[2011.818,0.390],[2011.831,0.485],[2011.842,0.390],[2011.854,0.458],[2011.867,0.445],[2011.880,0.485],[2011.892,0.363],[2011.900,0.268],[2011.908,0.174],[2011.920,0.390],[2011.933,0.445],[2011.947,0.472],[2011.958,0.322],[2011.970,0.445],[2011.983,0.492],[2011.996,0.499],[2012.009,0.546],[2012.024,0.540],[2012.036,0.580],[2012.049,0.648],[2012.062,0.682],[2012.074,0.716],[2012.086,0.770],[2012.099,0.783],[2012.112,0.790],[2012.124,0.770],[2012.135,0.783],[2012.148,0.763],[2012.162,0.777],[2012.173,0.750],[2012.182,0.689],[2012.193,0.777],[2012.206,0.797],[2012.218,0.804],[2012.231,0.790],[2012.244,0.817],[2012.256,0.804],[2012.267,0.770],[2012.277,0.675],[2012.289,0.743],[2012.301,0.729],[2012.314,0.770],[2012.327,0.763],[2012.339,0.689],[2012.350,0.661],[2012.363,0.634],[2012.377,0.594],[2012.390,0.540],
[2012.397,0.553],[2012.410,0.573],[2012.421,0.418],[2012.433,0.526],[2012.443,0.472],[2012.453,0.512],[2012.463,0.526],[2012.471,0.587],[2012.483,0.472],[2012.492,0.526],[2012.504,0.621],[2012.512,0.648],[2012.522,0.594],[2012.532,0.567],[2012.542,0.594],[2012.552,0.607],[2012.565,0.472],[2012.579,0.567],[2012.592,0.485],[2012.603,0.621],[2012.615,0.594],[2012.628,0.607],[2012.638,0.655],[2012.651,0.621],[2012.661,0.634],[2012.674,0.607],[2012.686,0.702],[2012.698,0.709],[2012.711,0.763],[2012.724,0.743],[2012.736,0.709],[2012.744,0.648],[2012.757,0.661],[2012.770,0.628],[2012.780,0.655],[2012.794,0.594],[2012.803,0.607],[2012.813,0.661],[2012.827,0.540],[2012.840,0.546],[2012.851,0.607],[2012.863,0.458],[2012.876,0.384],[2012.886,0.485],[2012.896,0.526],[2012.909,0.567],[2012.923,0.580],[2012.936,0.607],[2012.949,0.621],[2012.959,0.594],[2012.972,0.695],[2012.984,0.675],[2012.995,0.607],[2013.005,0.750],[2013.017,0.770],[2013.028,0.790],[2013.042,0.804],[2013.055,0.824],[2013.066,0.811],[2013.078,0.831],[2013.091,0.804],[2013.105,0.831],[2013.118,0.838],[2013.131,0.844],[2013.141,0.804],[2013.151,0.770],[2013.161,0.811],[2013.174,0.838],[2013.187,0.838],[2013.199,0.858],[2013.210,0.838],[2013.224,0.851],[2013.237,0.838],[2013.248,0.797],[2013.260,0.824],[2013.270,0.838],[2013.281,0.756],[2013.293,0.716],[2013.306,0.783],[2013.320,0.811],[2013.333,0.783],[2013.344,0.851],[2013.356,0.865],[2013.369,0.878],[2013.381,0.892],[2013.392,0.872],[2013.406,0.878],[2013.419,0.851],[2013.430,0.824],[2013.439,0.838],[2013.447,0.783],[2013.459,0.838],[2013.468,0.722],[2013.477,0.702],[2013.488,0.790],[2013.500,0.817],[2013.513,0.844],[2013.525,0.865],[2013.538,0.878],[2013.553,0.895],[2013.563,0.878],[2013.574,0.865],[2013.588,0.872],[2013.601,0.851],[2013.612,0.838],[2013.624,0.783],[2013.634,0.743],[2013.645,0.763],[2013.657,0.729],[2013.670,0.689],[2013.684,0.756],[2013.695,0.770],[2013.707,0.763],[2013.717,0.811],[2013.728,0.783],[2013.740,0.770],[2013.753,0.763],[2013.763,0.743],[2013.773,0.702],[2013.783,0.770],[2013.794,0.804],[2013.808,0.831],[2013.819,0.838],[2013.832,0.831],[2013.844,0.804],[2013.856,0.770],[2013.869,0.790],[2013.882,0.783],[2013.894,0.783],[2013.905,0.797],[2013.918,0.770],[2013.932,0.790],[2013.943,0.756],[2013.951,0.729],[2013.965,0.763],[2013.976,0.783],[2013.988,0.811],[2014.001,0.817],[2014.014,0.804],[2014.026,0.797],[2014.038,0.804],[2014.051,0.790],[2014.061,0.770],[2014.067,0.702],[2014.077,0.689],[2014.090,0.567],[2014.100,0.634],[2014.114,0.689],[2014.127,0.716],[2014.137,0.729],[2014.150,0.750],[2014.160,0.770],[2014.170,0.790],[2014.183,0.777],[2014.196,0.783],[2014.208,0.763],[2014.219,0.770],[2014.233,0.722],[2014.243,0.777],[2014.253,0.790],[2014.266,0.702],[2014.279,0.600],[2014.291,0.661],[2014.302,0.695],[2014.315,0.641],[2014.327,0.648],[2014.340,0.607],[2014.352,0.675],[2014.362,0.634],[2014.373,0.573],[2014.385,0.607],[2014.398,0.661],[2014.410,0.648],[2014.418,0.689],[2014.431,0.736],[2014.445,0.689],[2014.456,0.716],[2014.468,0.709],[2014.481,0.729],[2014.491,0.743],[2014.501,0.777],[2014.511,0.702],[2014.522,0.661],[2014.534,0.634],[2014.544,0.600],[2014.555,0.634],[2014.567,0.587],[2014.580,0.485],[2014.590,0.472],[2014.600,0.526],[2014.610,0.553],[2014.621,0.567],[2014.633,0.634],[2014.646,0.641],[2014.660,0.655],[2014.671,0.661],[2014.683,0.648],[2014.693,0.621],[2014.704,0.594],[2014.716,0.553],[2014.726,0.499],[2014.737,0.458],[2014.749,0.431],[2014.759,0.418],[2014.769,0.350],[2014.779,0.295],[2014.789,0.322],[2014.798,0.345]
];

// trendlines drawn on the chart (start, end)
const trend20: [number, number][][] = [
  [[2013.540, 0.940], [2014.095, 0.824]],
  [[2014.426, 0.880], [2014.537, 0.757]],
];
const trend50: [number, number][][] = [
  [[2013.808, 0.852], [2014.095, 0.735]],
  [[2014.506, 0.846], [2014.693, 0.647]],
];
const trend200: [number, number][][] = [
  [[2007.197, 0.808], [2008.736, 0.404]],
  [[2013.553, 0.894], [2014.815, 0.702]],
];

// ---------------- helpers ----------------
function toDate(y: number): Date {
  const yr = Math.floor(y);
  const a = new Date(yr, 0, 1).getTime();
  const b = new Date(yr + 1, 0, 1).getTime();
  return new Date(a + (y - yr) * (b - a));
}

const FONT = "'Liberation Sans', Arial, Helvetica, sans-serif";

// layout
const W = 1783, H = 1422;
const L = 27, R = 1757, T = 55, B = 1368;
const axisX0 = 1674;
const gridBottom = 1336;

const x = d3.scaleTime()
  .domain([toDate(xDomainYears[0]), toDate(xDomainYears[1])])
  .range([L, axisX0]);

const ySpx = d3.scaleLinear().domain([150, 450]).range([345.9, 96.9]);
const y20 = d3.scaleLinear().domain([0, 0.9]).range([659.8, 414.5]);
const y50 = d3.scaleLinear().domain([0, 0.9]).range([973.9, 717.3]);
const y200 = d3.scaleLinear().domain([0, 0.9]).range([1315.3, 1033.7]);

function YAxis({ scale, major, minor, fmt }: any) {
  const [a, b, s] = minor;
  const vals = d3.range(Math.round((b - a) / s) + 1).map((i) => a + i * s);
  const isMajor = (v: number) => major.some((m: number) => Math.abs(m - v) < 1e-6);
  return (
    <g>
      {vals.map((v, i) => {
        const yy = scale(v);
        const mj = isMajor(v);
        return (
          <line key={"t" + i} x1={axisX0} x2={mj ? axisX0 + 14 : axisX0 + 7} y1={yy} y2={yy}
            stroke="#000" strokeWidth={mj ? 1.6 : 1.2} />
        );
      })}
      {major.map((v: number, i: number) => (
        <text key={"l" + i} x={1754} y={scale(v) + 8} textAnchor="end" fontSize={22}
          fontFamily={FONT} fill="#000">{fmt(v)}</text>
      ))}
    </g>
  );
}

function Osc({ data, scale }: any) {
  const line = d3.line<[number, number]>()
    .x((d) => x(toDate(d[0])))
    .y((d) => scale(d[1]));
  return <path d={line(data) || ""} fill="none" stroke="#000" strokeWidth={1.3} strokeLinejoin="round" />;
}

function Trends({ lines, scale }: any) {
  return (
    <g>
      {lines.map((seg: [number, number][], i: number) => (
        <line key={i} x1={x(toDate(seg[0][0]))} y1={scale(seg[0][1])}
          x2={x(toDate(seg[1][0]))} y2={scale(seg[1][1])} stroke="#0000ff" strokeWidth={1.3} />
      ))}
    </g>
  );
}

export default function App() {
  const months = d3.timeMonth.range(x.domain()[0], x.domain()[1]);
  const years = d3.timeYear.range(new Date(2007, 0, 1), x.domain()[1]);
  const gridYears = years.filter((d) => x(d) > L);
  const fmtSpx = d3.format("d");
  const fmtPct = d3.format(".1f");

  return (
    <svg width={W} height={H} viewBox={`0 0 ${W} ${H}`}
      style={{ position: "absolute", left: 0, top: 0, display: "block", background: "#fff" }}>
      <defs>
        <clipPath id="plotClip">
          <rect x={L} y={T} width={R - L} height={B - T} />
        </clipPath>
      </defs>
      <rect x={0} y={0} width={W} height={H} fill="#fff" />
      {/* outer frame */}
      <rect x={2.5} y={1.5} width={1777} height={1419} fill="none" stroke="#9a9a9a" strokeWidth={2} />

      {/* title */}
      <text x={867} y={27} textAnchor="middle" fontSize={26.5} fontFamily={FONT} fill="#000">{chartTitle}</text>

      {/* gridlines */}
      {gridYears.map((d, i) => (
        <line key={"g" + i} x1={x(d)} x2={x(d)} y1={T} y2={gridBottom} stroke="#c4c4c4"
          strokeWidth={1.2} strokeDasharray="9,5" />
      ))}

      {/* panel titles */}
      <text x={850} y={78.6} textAnchor="middle" fontSize={23} fontFamily={FONT} fill="#000">{spxTitle}</text>
      <text x={850} y={392} textAnchor="middle" fontSize={23} fontFamily={FONT} fill="#000">{pct20Title}</text>
      <text x={850} y={706.3} textAnchor="middle" fontSize={23} fontFamily={FONT} fill="#000">{pct50Title}</text>
      <text x={850} y={1020.5} textAnchor="middle" fontSize={23} fontFamily={FONT} fill="#000">{pct200Title}</text>
      <text x={711} y={172} textAnchor="middle" fontSize={23} fontFamily={FONT} fontWeight="bold"
        fontStyle="italic" fill="#0000ff">{noteText}</text>

      {/* marker line */}
      <line x1={x(toDate(markerYear))} x2={x(toDate(markerYear))} y1={T} y2={gridBottom} stroke="#0000ff" strokeWidth={1.1} />

      {/* S&P */}
      <g>
        {spx.slice(1).map((d, i) => {
          const p = spx[i];
          const down = d[1] < p[1];
          return (
            <line key={"s" + i} x1={x(toDate(p[0]))} y1={ySpx(p[1])} x2={x(toDate(d[0]))} y2={ySpx(d[1])}
              stroke={down ? "#ff0000" : "#000"} strokeWidth={2.4} strokeLinecap="round" />
          );
        })}
      </g>

      <Osc data={pct20} scale={y20} />
      <Osc data={pct50} scale={y50} />
      <Osc data={pct200} scale={y200} />

      <Trends lines={trend20} scale={y20} />
      <Trends lines={trend50} scale={y50} />
      <Trends lines={trend200} scale={y200} />

      {/* y axes */}
      <YAxis scale={ySpx} major={spxMajor} minor={spxMinorRange} fmt={fmtSpx} />
      <YAxis scale={y20} major={pctMajor} minor={pct20MinorRange} fmt={fmtPct} />
      <YAxis scale={y50} major={pctMajor} minor={pct50MinorRange} fmt={fmtPct} />
      <YAxis scale={y200} major={pctMajor} minor={pct200MinorRange} fmt={fmtPct} />

      {/* panel dividers */}
      <line x1={L} x2={R} y1={371} y2={371} stroke="#444" strokeWidth={1.5} />
      <line x1={L} x2={R} y1={685} y2={685} stroke="#8a8a8a" strokeWidth={1.3} />

      {/* x axis */}
      {months.map((d, i) => (
        <line key={"m" + i} x1={x(d)} x2={x(d)} y1={gridBottom} y2={1344} stroke="#000" strokeWidth={1.2} />
      ))}
      {gridYears.map((d, i) => (
        <line key={"y" + i} x1={x(d)} x2={x(d)} y1={gridBottom} y2={B} stroke="#000" strokeWidth={1.2} />
      ))}
      <g clipPath="url(#plotClip)">
        {years.map((d, i) => (
          <text key={"yl" + i} x={x(d) + 1} y={1363} fontSize={22} fontFamily={FONT} fill="#000">
            {d3.timeFormat("%Y")(d)}
          </text>
        ))}
      </g>

      {/* plot frame */}
      <line x1={L} x2={R} y1={T} y2={T} stroke="#666" strokeWidth={1.5} />
      <line x1={L} x2={L} y1={T} y2={B} stroke="#666" strokeWidth={1.5} />
      <line x1={R} x2={R} y1={T} y2={B} stroke="#666" strokeWidth={1.5} />
      <line x1={L} x2={R} y1={B} y2={B} stroke="#000" strokeWidth={1.5} />

      {/* footer */}
      <text x={866} y={1417} textAnchor="middle" fontSize={26} fontFamily={FONT} fill="#000">{footerDate}</text>
    </svg>
  );
}
